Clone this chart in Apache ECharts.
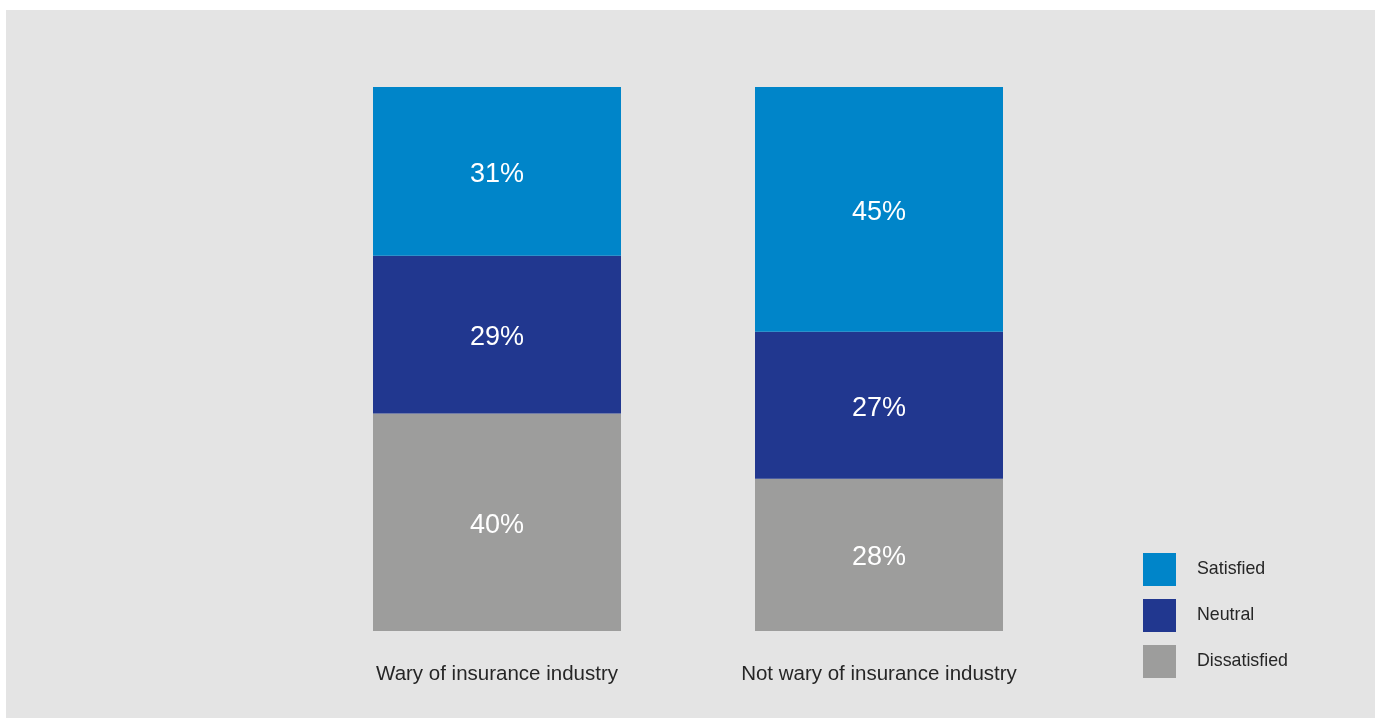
<!DOCTYPE html>
<html>
<head>
<meta charset="utf-8">
<style>
  html, body { margin: 0; padding: 0; background: #ffffff; }
  #chart { width: 1375px; height: 718px; }
</style>
<script src="https://cdn.jsdelivr.net/npm/echarts@6/dist/echarts.min.js"></script>
</head>
<body>
<div id="chart"></div>
<script>
// Share of respondents by satisfaction, split by attitude to the insurance industry
const categories = ['Wary of insurance industry', 'Not wary of insurance industry'];
const dissatisfied = [40, 28];
const neutral = [29, 27];
const satisfied = [31, 45];
const legendOrder = ['Satisfied', 'Neutral', 'Dissatisfied'];

const FONT = '"Liberation Sans", Arial, Helvetica, sans-serif';
const colors = { Satisfied: '#0085c9', Neutral: '#21378f', Dissatisfied: '#9d9d9c' };

function segment(name, values) {
  return {
    name: name,
    type: 'bar',
    stack: 'total',
    barWidth: 248,
    data: values,
    itemStyle: { color: colors[name] },
    label: {
      show: true,
      position: 'inside',
      offset: [0, 3],
      formatter: '{c}%',
      color: '#ffffff',
      fontSize: 27,
      fontFamily: FONT
    },
    emphasis: { disabled: true }
  };
}

const chart = echarts.init(document.getElementById('chart'), null, { renderer: 'canvas' });
chart.setOption({
  backgroundColor: '#ffffff',
  animation: false,
  graphic: [{
    type: 'rect',
    left: 6, top: 10,
    shape: { width: 1369, height: 708 },
    style: { fill: '#e4e4e4' },
    z: -10,
    silent: true
  }],
  grid: { left: 306, right: 305, top: 87, bottom: 87, containLabel: false },
  xAxis: {
    type: 'category',
    data: categories,
    axisLine: { show: false },
    axisTick: { show: false },
    axisLabel: { color: '#262626', fontSize: 20.5, fontFamily: FONT, margin: 33 }
  },
  yAxis: {
    type: 'value',
    min: 0, max: 100,
    show: false
  },
  legend: {
    data: legendOrder,
    orient: 'vertical',
    left: 1143,
    top: 553,
    padding: 0,
    itemWidth: 33,
    itemHeight: 33,
    itemGap: 13,
    icon: 'rect',
    selectedMode: false,
    textStyle: { color: '#262626', fontSize: 17.8, fontFamily: FONT, padding: [4, 0, 0, 16] }
  },
  series: [
    segment('Dissatisfied', dissatisfied),
    segment('Neutral', neutral),
    segment('Satisfied', satisfied)
  ]
});
</script>
</body>
</html>
